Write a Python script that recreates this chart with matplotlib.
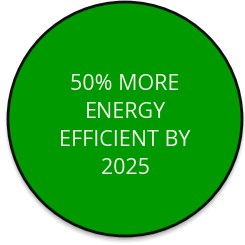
import matplotlib
matplotlib.use("Agg")
import matplotlib.pyplot as plt
from matplotlib.patches import Circle

# badge content
label_lines = ["50% MORE", "ENERGY", "EFFICIENT BY", "2025"]
badge_color = "#009900"

fig = plt.figure(figsize=(2.45, 2.45), dpi=100)
ax = fig.add_axes([0, 0, 1, 1])
ax.set_xlim(0, 245)
ax.set_ylim(245, 0)
ax.axis("off")

cx, cy, r = 125, 119, 117

# soft shadow under the badge
for i, a in enumerate([0.05, 0.07, 0.10, 0.14]):
    ax.add_patch(Circle((cx, cy + 4 - i * 0.5), r + 3 - i, color="black", alpha=a, lw=0))

ax.add_patch(Circle((cx, cy), r, facecolor=badge_color, edgecolor="#111111", lw=2))

y0, step = 84, 28
for i, line in enumerate(label_lines):
    ax.text(cx, y0 + i * step, line, color="#f4f4ec", fontsize=15.5,
            family="Open Sans", ha="center", va="center")

fig.savefig("out.png", dpi=100, facecolor="white")
